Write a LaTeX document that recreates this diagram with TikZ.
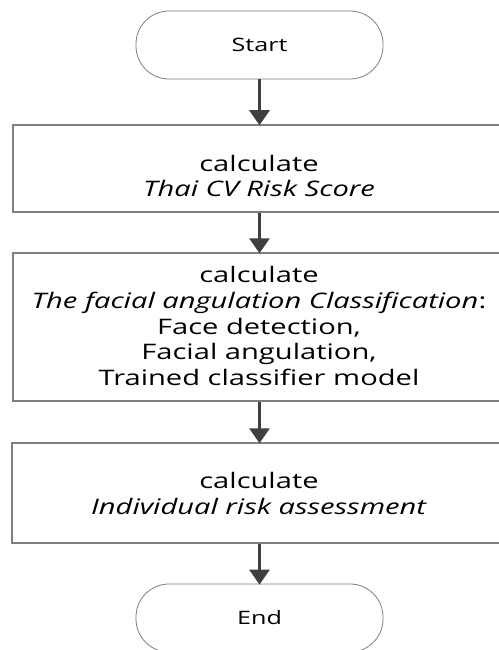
\documentclass[tikz,border=0pt]{standalone}
\usepackage{fontspec}
\setmainfont[FakeStretch=1.36]{Open Sans}
\usetikzlibrary{arrows.meta}
\definecolor{boxline}{HTML}{7F7F7F}
\definecolor{arrowcol}{HTML}{404040}
\tikzset{
  term/.style={draw=boxline, line width=0.8pt, rounded corners=33pt, minimum width=247pt, minimum height=68pt, inner sep=0pt, font=\fontsize{18.5}{20}\selectfont},
  stepbox/.style={draw=boxline, line width=1.5pt, minimum width=492pt, inner sep=0pt},
  txt/.style={align=center, inner sep=0pt, font=\fontsize{21.4}{25.7}\selectfont},
  flow/.style={draw=arrowcol, line width=3pt, -{Triangle[width=20pt,length=15pt]}, shorten >=-1pt}
}
\begin{document}
\begin{tikzpicture}[x=1pt,y=-1pt]
\useasboundingbox[fill=white] (0,0) rectangle (498,650);
\node[term] (start) at (259.5,45) {Start};
\node[stepbox, minimum height=87pt] (b1) at (259,168.5) {};
\node[txt] (t1) at (259,176) {calculate\\\textit{Thai CV Risk Score}};
\node[stepbox, minimum height=148pt] (b2) at (259,327) {};
\node[txt] (t2) at (259,326) {calculate\\\textit{The facial angulation Classification}:\\Face detection,\\Facial angulation,\\Trained classifier model};
\node[stepbox, minimum height=100pt] (b3) at (258,493) {};
\node[txt] (t3) at (259,493.5) {calculate\\\textit{Individual risk assessment}};
\node[term] (end) at (259.5,618) {End};
\draw[flow] (start.south) -- (b1.north -| start.south);
\draw[flow] (b1.south -| start.south) -- (b2.north -| start.south);
\draw[flow] (b2.south -| start.south) -- (b3.north -| start.south);
\draw[flow] (b3.south -| start.south) -- (end.north);
\end{tikzpicture}
\end{document}
